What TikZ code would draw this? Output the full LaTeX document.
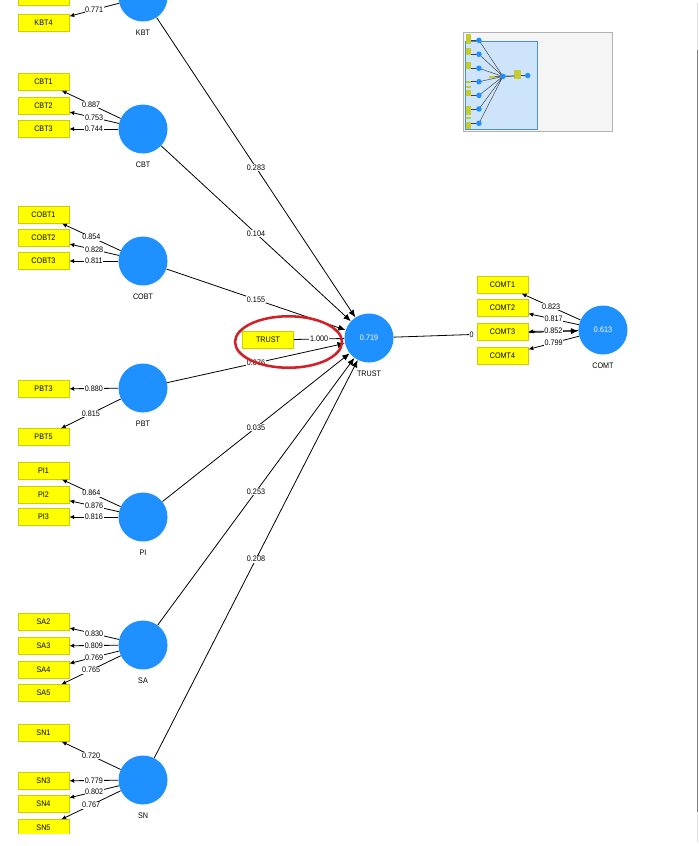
\documentclass[tikz,border=0pt]{standalone}
\usepackage{fontspec}
\setmainfont{Liberation Sans}[FakeStretch=0.9]
\usepackage{xcolor}
\usepackage{tikz}
\usetikzlibrary{arrows.meta,positioning}
\definecolor{lvblue}{RGB}{30,144,255}
\definecolor{mvyellow}{RGB}{255,255,0}
\definecolor{mvedge}{RGB}{205,205,0}
\definecolor{markred}{RGB}{210,32,39}
\definecolor{mapblue}{RGB}{205,228,250}
\definecolor{mapedge}{RGB}{74,144,214}
\definecolor{mapyellow}{RGB}{196,204,48}

\begin{document}
\begin{tikzpicture}[
      x=0.75pt,y=-0.75pt,
      every node/.style={font=\fontsize{6}{7}\selectfont},
      latent/.style={circle,fill=lvblue,minimum size=36.75pt,inner sep=0pt,text=white},
      lvname/.style={inner sep=1pt},
      indbox/.style={draw=mvedge,fill=mvyellow,minimum width=38.5pt,minimum height=12.5pt,inner sep=0pt},
      arr/.style={-{Latex[length=3.6pt,width=3.3pt]}, line width=0.6pt},
      parr/.style={-{Latex[length=5.5pt,width=4.6pt]}, line width=0.6pt},
      lbl/.style={fill=white,inner sep=0.5pt}
  ]
    \path[use as bounding box] (0,0) rectangle (699,846);
    \begin{scope}
    \clip (0,0) rectangle (694,833);

    \node[latent] (KBT) at (143,-3) {};
    \node[lvname,below=5pt of KBT] (KBTname) {KBT};
    \node[latent] (CBT) at (143,129) {};
    \node[lvname,below=5pt of CBT] (CBTname) {CBT};
    \node[latent] (COBT) at (143,261) {};
    \node[lvname,below=5pt of COBT] (COBTname) {COBT};
    \node[latent] (PBT) at (143,388) {};
    \node[lvname,below=5pt of PBT] (PBTname) {PBT};
    \node[latent] (PI) at (143,517) {};
    \node[lvname,below=5pt of PI] (PIname) {PI};
    \node[latent] (SA) at (143,645) {};
    \node[lvname,below=5pt of SA] (SAname) {SA};
    \node[latent] (SN) at (143,780) {};
    \node[lvname,below=5pt of SN] (SNname) {SN};
    \node[latent] (TRUST) at (369,338) {0.719};
    \node[lvname,below=5pt of TRUST] (TRUSTname) {TRUST};
    \node[latent] (COMT) at (603,330) {0.613};
    \node[lvname,below=5pt of COMT] (COMTname) {COMT};

    \node[indbox] (KBT3) at (43.5,-3.5) {KBT3};
    \node[indbox] (KBT4) at (43.5,23) {KBT4};
    \node[indbox] (CBT1) at (43.5,82) {CBT1};
    \node[indbox] (CBT2) at (43.5,106) {CBT2};
    \node[indbox] (CBT3) at (43.5,129) {CBT3};
    \node[indbox] (COBT1) at (43.5,215) {COBT1};
    \node[indbox] (COBT2) at (43.5,238) {COBT2};
    \node[indbox] (COBT3) at (43.5,261) {COBT3};
    \node[indbox] (PBT3) at (43.5,389) {PBT3};
    \node[indbox] (PBT5) at (43.5,437) {PBT5};
    \node[indbox] (PI1) at (43.5,471) {PI1};
    \node[indbox] (PI2) at (43.5,495) {PI2};
    \node[indbox] (PI3) at (43.5,517) {PI3};
    \node[indbox] (SA2) at (43.5,622) {SA2};
    \node[indbox] (SA3) at (43.5,646) {SA3};
    \node[indbox] (SA4) at (43.5,670) {SA4};
    \node[indbox] (SA5) at (43.5,693) {SA5};
    \node[indbox] (SN1) at (43.5,733) {SN1};
    \node[indbox] (SN3) at (43.5,781) {SN3};
    \node[indbox] (SN4) at (43.5,804) {SN4};
    \node[indbox] (SN5) at (43.5,828) {SN5};

    \draw[arr] (KBT) -- (KBT3);
    \draw[arr] (KBT) -- node[lbl] {0.771} (KBT4);
    \draw[arr] (CBT) -- node[lbl] {0.887} (CBT1);
    \draw[arr] (CBT) -- node[lbl] {0.753} (CBT2);
    \draw[arr] (CBT) -- node[lbl] {0.744} (CBT3);
    \draw[arr] (COBT) -- node[lbl] {0.854} (COBT1);
    \draw[arr] (COBT) -- node[lbl] {0.828} (COBT2);
    \draw[arr] (COBT) -- node[lbl] {0.811} (COBT3);
    \draw[arr] (PBT) -- node[lbl] {0.880} (PBT3);
    \draw[arr] (PBT) -- node[lbl] {0.815} (PBT5);
    \draw[arr] (PI) -- node[lbl] {0.864} (PI1);
    \draw[arr] (PI) -- node[lbl] {0.876} (PI2);
    \draw[arr] (PI) -- node[lbl] {0.816} (PI3);
    \draw[arr] (SA) -- node[lbl] {0.830} (SA2);
    \draw[arr] (SA) -- node[lbl] {0.809} (SA3);
    \draw[arr] (SA) -- node[lbl] {0.769} (SA4);
    \draw[arr] (SA) -- node[lbl] {0.765} (SA5);
    \draw[arr] (SN) -- node[lbl] {0.720} (SN1);
    \draw[arr] (SN) -- node[lbl] {0.779} (SN3);
    \draw[arr] (SN) -- node[lbl] {0.802} (SN4);
    \draw[arr] (SN) -- node[lbl] {0.767} (SN5);

    \draw[parr] (KBT) -- node[lbl] {0.283} (TRUST);
    \draw[parr] (CBT) -- node[lbl] {0.104} (TRUST);
    \draw[parr] (COBT) -- node[lbl] {0.155} (TRUST);
    \draw[parr] (PBT) -- node[lbl] {0.076} (TRUST);
    \draw[parr] (PI) -- node[lbl] {0.035} (TRUST);
    \draw[parr] (SA) -- node[lbl] {0.253} (TRUST);
    \draw[parr] (SN) -- node[lbl] {0.208} (TRUST);

    \node[indbox] (TRUSTind) at (268,340) {TRUST};
    \draw[line width=0.6pt] (TRUSTind) -- node[lbl] {1.000} (TRUST);

    \draw[parr] (TRUST) -- node[lbl,pos=0.46] {0\phantom{.000}} (COMT);

    \node[indbox] (COMT1) at (502.5,285) {COMT1};
    \node[indbox] (COMT2) at (502.5,308) {COMT2};
    \node[indbox] (COMT3) at (502.5,332) {COMT3};
    \node[indbox] (COMT4) at (502.5,356) {COMT4};
    \draw[arr] (COMT) -- node[lbl] {0.823} (COMT1);
    \draw[arr] (COMT) -- node[lbl] {0.817} (COMT2);
    \draw[arr] (COMT) -- node[lbl] {0.852} (COMT3);
    \draw[arr] (COMT) -- node[lbl] {0.799} (COMT4);

    \draw[markred,line width=1.9pt] (288.5,342) ellipse [x radius=40.1pt,y radius=19.3pt];
    \end{scope}

    \filldraw[fill=black!4,draw=black!30,line width=0.6pt] (463,32) rectangle (612,131);
    \filldraw[fill=mapblue,draw=mapedge,line width=0.6pt] (465,41) rectangle (537,129);
    \begin{scope}[shift={(463.8,40.6)},scale=0.106]
      \fill[mapyellow] (18,-62) rectangle (69,32);
      \fill[mapyellow] (18,73) rectangle (69,138);
      \fill[mapyellow] (18,206) rectangle (69,270);
      \fill[mapyellow] (18,380) rectangle (69,398);
      \fill[mapyellow] (18,428) rectangle (69,446);
      \fill[mapyellow] (18,462) rectangle (69,526);
      \fill[mapyellow] (18,613) rectangle (69,702);
      \fill[mapyellow] (18,724) rectangle (69,742);
      \fill[mapyellow] (18,772) rectangle (69,837);
      \fill[mapyellow] (242,331) rectangle (294,349);
      \fill[mapyellow] (476,276) rectangle (540,365);
      \draw[black!75,line width=0.35pt] (143,-3) -- (369,338) (143,129) -- (369,338)
        (143,261) -- (369,338) (143,388) -- (369,338) (143,517) -- (369,338)
        (143,645) -- (369,338) (143,780) -- (369,338);
      \draw[black!75,line width=0.35pt] (143,-3) -- (69,-3) (143,129) -- (69,129)
        (143,261) -- (69,261) (143,388) -- (69,388) (143,517) -- (69,517)
        (143,645) -- (69,645) (143,780) -- (69,780) (603,330) -- (540,330);
      \draw[black!60,line width=0.9pt] (294,340) -- (369,338) -- (476,334);
      \fill[lvblue] (143,-3) circle[radius=26] (143,129) circle[radius=26]
        (143,261) circle[radius=26] (143,388) circle[radius=26] (143,517) circle[radius=26]
        (143,645) circle[radius=26] (143,780) circle[radius=26]
        (369,338) circle[radius=26] (603,330) circle[radius=26];
    \end{scope}

    \draw[black!12,line width=1.2pt] (697.5,3) -- (697.5,842);
    \draw[black!50,line width=1.2pt] (697.5,50) -- (697.5,812);
  \end{tikzpicture}
\end{document}
